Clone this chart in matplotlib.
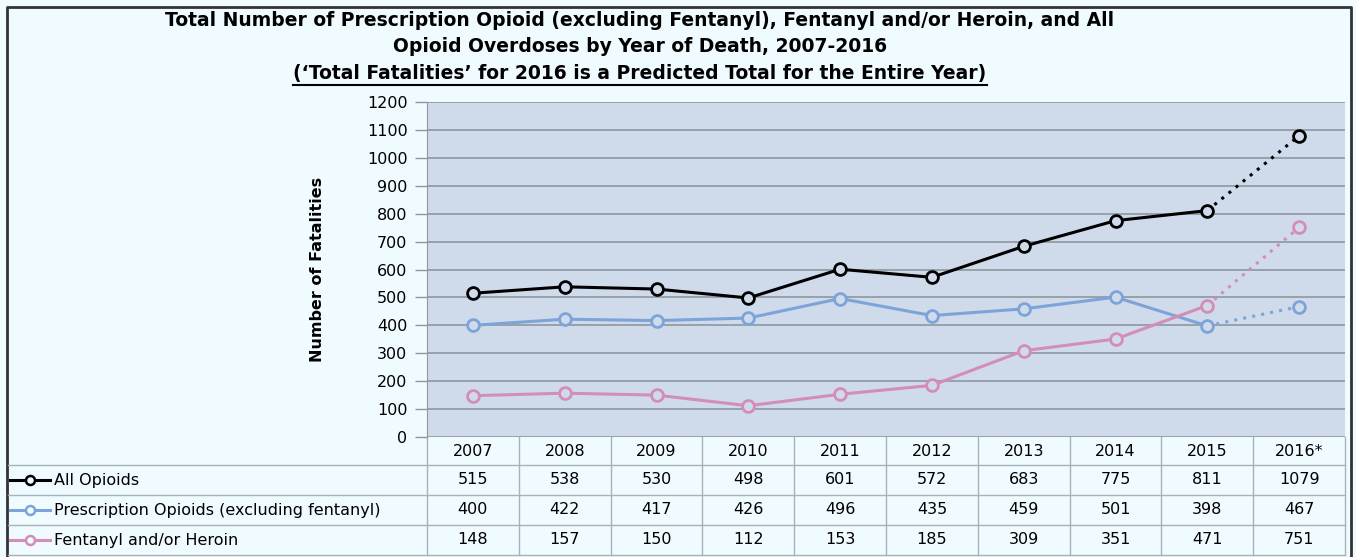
import numpy as np
import matplotlib.pyplot as plt

# données lues dans le tableau
years = ['2007', '2008', '2009', '2010', '2011', '2012', '2013', '2014', '2015', '2016*']
all_opioids = [515, 538, 530, 498, 601, 572, 683, 775, 811, 1079]
prescription = [400, 422, 417, 426, 496, 435, 459, 501, 398, 467]
fentanyl_heroin = [148, 157, 150, 112, 153, 185, 309, 351, 471, 751]
series_names = ['All Opioids', 'Prescription Opioids (excluding fentanyl)', 'Fentanyl and/or Heroin']
series_colors = ['#000000', '#7DA4D8', '#D48DB5']
yticks = list(range(0, 1300, 100))

W, H = 1356, 557
bg = '#F0FBFF'
plot_bg = '#CFDBEA'
grid_c = '#8E979F'
table_c = '#A8B2BA'
plt.rcParams['font.family'] = ['DejaVu Sans']

fig = plt.figure(figsize=(W / 100, H / 100), dpi=100, facecolor=bg)

# axe en pixels pour le cadre et le tableau
fa = fig.add_axes([0, 0, 1, 1], facecolor='none')
fa.set_xlim(0, W)
fa.set_ylim(H, 0)
fa.axis('off')

x0, x1 = 427, 1345
y_top, y_bot = 102, 437
cw = (x1 - x0) / len(years)

ax = fig.add_axes([x0 / W, (H - y_bot) / H, (x1 - x0) / W, (y_bot - y_top) / H], facecolor=plot_bg)
ax.set_xlim(-0.5, len(years) - 0.5)
ax.set_ylim(0, 1200)
ax.set_yticks(yticks)
ax.set_yticklabels([str(t) for t in yticks], fontsize=11.5)
ax.set_xticks([])
ax.tick_params(axis='y', length=9, width=1, color=grid_c, pad=5)
for t in yticks:
    ax.axhline(t, color=grid_c, lw=1.2, zorder=1)
for s in ['top', 'right', 'bottom']:
    ax.spines[s].set_visible(False)
ax.spines['left'].set_color(grid_c)
ax.set_ylabel('Number of Fatalities', fontsize=11.5, fontweight='bold', labelpad=30)

x = np.arange(len(years))
data = [all_opioids, prescription, fentanyl_heroin]
for vals, col in zip(data, series_colors):
    ax.plot(x[:-1], vals[:-1], color=col, lw=2.2, zorder=3)
    ax.plot(x[-2:], vals[-2:], color=col, lw=2.2, ls=(0, (1, 2)), zorder=3)
    ax.plot(x, vals, ls='none', marker='o', ms=8.5, mew=2, mec=col, mfc=plot_bg, zorder=4)

# titre
fig.text(640 / W, 1 - 20 / H, 'Total Number of Prescription Opioid (excluding Fentanyl), Fentanyl and/or Heroin, and All',
         ha='center', va='center', fontsize=13.5, fontweight='bold')
fig.text(640 / W, 1 - 47 / H, 'Opioid Overdoses by Year of Death, 2007-2016',
         ha='center', va='center', fontsize=13.5, fontweight='bold')
t3 = fig.text(640 / W, 1 - 74 / H, '(\u2018Total Fatalities\u2019 for 2016 is a Predicted Total for the Entire Year)',
              ha='center', va='center', fontsize=13.5, fontweight='bold')
fig.canvas.draw()
bb = t3.get_window_extent()
fa.plot([bb.x0, bb.x1], [H - bb.y0 + 1, H - bb.y0 + 1], color='black', lw=1.5)

# cadre extérieur
fa.plot([7, 7, 1351, 1351], [H, 7, 7, H], color='#333333', lw=2)

# tableau
row_y = [437, 465, 495, 525, 555]
for y in row_y[1:]:
    fa.plot([8, x1], [y, y], color=table_c, lw=1)
for k in range(len(years) + 1):
    xx = x0 + k * cw
    fa.plot([xx, xx], [row_y[0], row_y[-1]], color=table_c, lw=1)
for i, yr in enumerate(years):
    fa.text(x0 + (i + 0.5) * cw, (row_y[0] + row_y[1]) / 2 + 1, yr, ha='center', va='center', fontsize=11.5)
for r, (name, vals, col) in enumerate(zip(series_names, data, series_colors)):
    yc = (row_y[r + 1] + row_y[r + 2]) / 2
    fa.plot([10, 50], [yc, yc], color=col, lw=2.2)
    fa.plot([30], [yc], marker='o', ms=6.5, mew=1.8, mec=col, mfc=bg)
    fa.text(54, yc, name, ha='left', va='center', fontsize=11.5)
    for i, v in enumerate(vals):
        fa.text(x0 + (i + 0.5) * cw, yc, str(v), ha='center', va='center', fontsize=11.5)

fig.savefig('out.png', dpi=100, facecolor=bg)
